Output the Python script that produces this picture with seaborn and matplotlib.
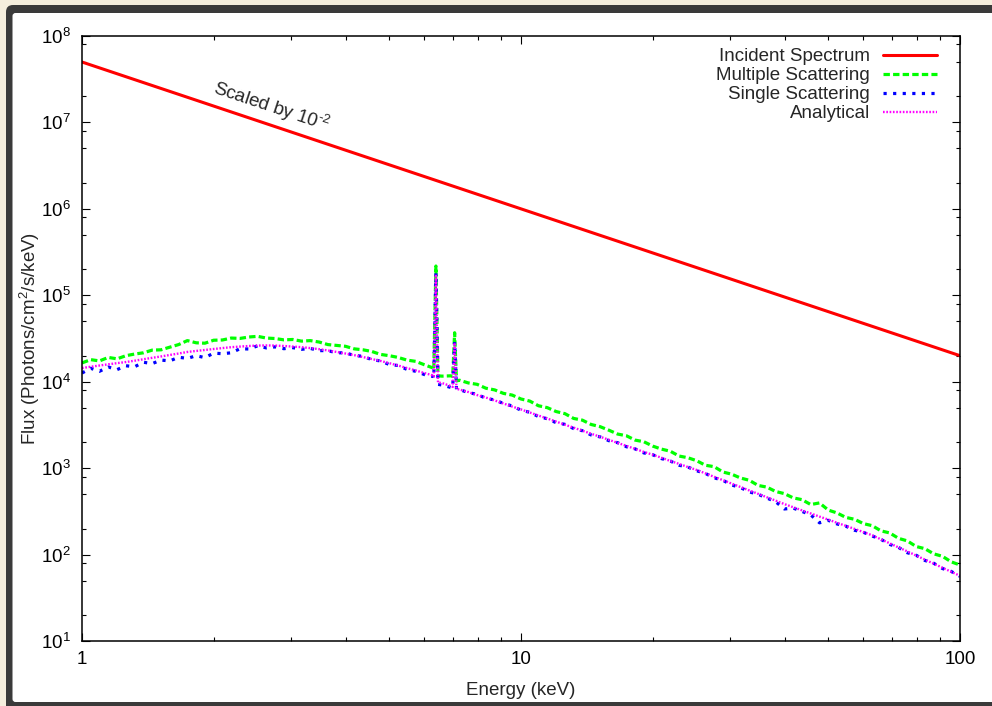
import matplotlib
matplotlib.use("Agg")
import matplotlib.pyplot as plt
from matplotlib.patches import FancyBboxPatch
from matplotlib.transforms import IdentityTransform
from matplotlib.ticker import (LogLocator, FixedLocator, FixedFormatter,
                               NullFormatter, LogFormatterSciNotation)
import seaborn as sns

# ---------------------------------------------------------------- data
energy_kev = [
    1.000, 1.047, 1.096, 1.148, 1.202, 1.259, 1.318, 1.380, 1.445, 1.514,
    1.585, 1.660, 1.738, 1.820, 1.905, 1.995, 2.089, 2.188, 2.291, 2.399,
    2.512, 2.630, 2.754, 2.884, 3.020, 3.162, 3.311, 3.467, 3.631, 3.802,
    3.981, 4.169, 4.365, 4.571, 4.786, 5.012, 5.248, 5.495, 5.754, 6.026,
    6.310, 6.33, 6.40, 6.47, 6.607, 6.918, 6.99, 7.06, 7.13,
    7.244, 7.586, 7.943, 8.318, 8.710, 9.120, 9.550,
    10.00, 10.47, 10.96, 11.48, 12.02, 12.59, 13.18, 13.80, 14.45, 15.14,
    15.85, 16.60, 17.38, 18.20, 19.05, 19.95, 20.89, 21.88, 22.91, 23.99,
    25.12, 26.30, 27.54, 28.84, 30.20, 31.62, 33.11, 34.67, 36.31, 38.02,
    39.81, 41.69, 43.65, 45.71, 47.86, 50.12, 52.48, 54.95, 57.54, 60.26,
    63.10, 66.07, 69.18, 72.44, 75.86, 79.43, 83.18, 87.10, 91.20, 95.50, 100.0,
]

incident_energy = [1.0, 100.0]
incident_flux = [5.0e7, 2.0e4]

multiple_flux = [
    1.65e4, 1.80e4, 1.74e4, 1.91e4, 1.84e4, 2.00e4, 2.09e4, 2.16e4, 2.32e4, 2.34e4,
    2.51e4, 2.69e4, 2.99e4, 2.82e4, 2.79e4, 3.02e4, 3.04e4, 3.20e4, 3.17e4, 3.29e4,
    3.35e4, 3.20e4, 3.16e4, 3.05e4, 3.08e4, 2.95e4, 2.99e4, 2.88e4, 2.69e4, 2.63e4,
    2.57e4, 2.40e4, 2.34e4, 2.24e4, 2.07e4, 2.00e4, 1.91e4, 1.78e4, 1.72e4, 1.57e4,
    1.44e4, 1.38e4, 2.18e5, 1.17e4, 1.16e4, 1.17e4, 1.15e4, 3.69e4, 1.02e4,
    1.04e4, 9.68e3, 9.33e3, 8.41e3, 8.04e3, 7.33e3, 7.00e3,
    6.31e3, 5.97e3, 5.27e3, 5.01e3, 4.52e3, 4.27e3, 3.76e3, 3.59e3, 3.20e3, 3.02e3,
    2.75e3, 2.48e3, 2.37e3, 2.11e3, 2.02e3, 1.80e3, 1.66e3, 1.57e3, 1.38e3, 1.32e3,
    1.22e3, 1.08e3, 1.04e3, 902, 851, 769, 724, 631, 603, 537,
    507, 453, 432, 379, 396, 327, 303, 269, 256, 228,
    216, 188, 178, 154, 144, 124, 117, 102, 95.5, 82.4, 75.7,
]

single_flux = [
    1.26e4, 1.43e4, 1.32e4, 1.48e4, 1.38e4, 1.53e4, 1.49e4, 1.68e4, 1.62e4, 1.78e4,
    1.74e4, 1.92e4, 1.86e4, 2.00e4, 1.90e4, 2.14e4, 2.11e4, 2.16e4, 2.41e4, 2.39e4,
    2.60e4, 2.46e4, 2.53e4, 2.41e4, 2.48e4, 2.37e4, 2.43e4, 2.29e4, 2.29e4, 2.16e4,
    2.16e4, 2.01e4, 1.97e4, 1.80e4, 1.74e4, 1.58e4, 1.54e4, 1.39e4, 1.32e4, 1.21e4,
    1.15e4, 1.10e4, 1.81e5, 9.33e3, 9.16e3, 8.59e3, 8.51e3, 2.90e4, 8.13e3,
    8.09e3, 7.50e3, 7.14e3, 6.43e3, 6.15e3, 5.60e3, 5.24e3,
    4.68e3, 4.43e3, 3.95e3, 3.73e3, 3.36e3, 3.21e3, 2.87e3, 2.71e3, 2.42e3, 2.30e3,
    2.08e3, 1.97e3, 1.77e3, 1.67e3, 1.50e3, 1.43e3, 1.29e3, 1.21e3, 1.08e3, 1.03e3,
    933, 869, 773, 723, 638, 596, 531, 499, 451, 409,
    337, 345, 316, 288, 233, 249, 226, 213, 191, 181,
    164, 150, 131, 121, 105, 98.4, 85.5, 79.4, 69.0, 63.8, 56.0,
]

analytical_flux = [
    1.44e4, 1.49e4, 1.54e4, 1.59e4, 1.64e4, 1.69e4, 1.75e4, 1.82e4, 1.89e4, 1.96e4,
    2.04e4, 2.12e4, 2.21e4, 2.27e4, 2.33e4, 2.39e4, 2.45e4, 2.51e4, 2.55e4, 2.59e4,
    2.62e4, 2.63e4, 2.62e4, 2.59e4, 2.55e4, 2.51e4, 2.45e4, 2.38e4, 2.30e4, 2.21e4,
    2.12e4, 2.03e4, 1.93e4, 1.83e4, 1.74e4, 1.64e4, 1.54e4, 1.44e4, 1.35e4, 1.26e4,
    1.18e4, 1.15e4, 1.74e5, 9.77e3, 9.66e3, 8.91e3, 8.71e3, 2.82e4, 8.22e3,
    8.13e3, 7.60e3, 7.01e3, 6.56e3, 6.07e3, 5.60e3, 5.16e3,
    4.78e3, 4.41e3, 4.06e3, 3.75e3, 3.46e3, 3.18e3, 2.94e3, 2.71e3, 2.50e3, 2.31e3,
    2.13e3, 1.96e3, 1.81e3, 1.67e3, 1.54e3, 1.43e3, 1.32e3, 1.21e3, 1.12e3, 1.03e3,
    953, 871, 794, 726, 662, 605, 552, 505, 460, 421,
    384, 353, 325, 299, 275, 254, 233, 215, 198, 182,
    167, 150, 135, 121, 109, 97.5, 87.5, 78.5, 70.5, 63.2, 56.8,
]

series_labels = ["Incident Spectrum", "Multiple Scattering",
                 "Single Scattering", "Analytical"]
x_tick_values = [1, 10, 100]
x_tick_labels = ["1", "10", "100"]
y_tick_values = [1e1, 1e2, 1e3, 1e4, 1e5, 1e6, 1e7, 1e8]

# ---------------------------------------------------------------- style
sns.set_style("ticks")
plt.rcParams["font.family"] = ["Liberation Sans", "DejaVu Sans"]
plt.rcParams["mathtext.fontset"] = "custom"
plt.rcParams["mathtext.rm"] = "Liberation Sans"
plt.rcParams["mathtext.it"] = "Liberation Sans:italic"
plt.rcParams["mathtext.bf"] = "Liberation Sans:bold"

FS = 13.5
W, H = 992, 706

fig = plt.figure(figsize=(W / 100, H / 100), dpi=100, facecolor="#f5eedd")

# dark rounded frame and white sheet behind the plot
fig.add_artist(FancyBboxPatch((6, -30), 1100, H - 5 + 30,
                              boxstyle="round,pad=0,rounding_size=7",
                              fc="#3a3a3a", ec="none",
                              transform=IdentityTransform(), zorder=-20))
fig.add_artist(FancyBboxPatch((12.5, 4), 1100, H - 13 - 4,
                              boxstyle="round,pad=0,rounding_size=3",
                              fc="white", ec="none",
                              transform=IdentityTransform(), zorder=-19))

ax = fig.add_axes([82 / W, 1 - 641 / H, (960 - 82) / W, (641 - 36) / H])
ax.set_facecolor("white")
ax.set_xscale("log")
ax.set_yscale("log")

sns.lineplot(x=incident_energy, y=incident_flux, ax=ax, color="#ff0000",
             lw=2.2, estimator=None, sort=False, label=series_labels[0])
sns.lineplot(x=energy_kev, y=multiple_flux, ax=ax, color="#00ff00",
             lw=2.3, linestyle=(0, (2.0, 1.0)), estimator=None, sort=False,
             label=series_labels[1])
sns.lineplot(x=energy_kev, y=single_flux, ax=ax, color="#0000ff",
             lw=2.3, linestyle=(0, (1.0, 2.0)), estimator=None, sort=False,
             label=series_labels[2])
sns.lineplot(x=energy_kev, y=analytical_flux, ax=ax, color="#ff00ff",
             lw=1.7, linestyle=(0, (0.7, 0.7)), estimator=None, sort=False,
             label=series_labels[3])

ax.set_xlim(1, 100)
ax.set_ylim(10, 1e8)

# ticks: inward, mirrored on all sides
ax.xaxis.set_major_locator(FixedLocator(x_tick_values))
ax.xaxis.set_major_formatter(FixedFormatter(x_tick_labels))
ax.xaxis.set_minor_locator(LogLocator(base=10, subs=range(2, 10), numticks=20))
ax.xaxis.set_minor_formatter(NullFormatter())
ax.yaxis.set_major_locator(FixedLocator(y_tick_values))
ax.yaxis.set_major_formatter(LogFormatterSciNotation())
ax.yaxis.set_minor_locator(LogLocator(base=10, subs=(2, 5, 8), numticks=20))
ax.yaxis.set_minor_formatter(NullFormatter())

ax.tick_params(which="both", direction="in", top=True, right=True,
               colors="black", labelsize=FS, width=0.8)
ax.tick_params(which="major", length=5.8)
ax.tick_params(which="minor", length=3.2)
ax.tick_params(axis="x", which="major", pad=7)
ax.tick_params(axis="y", which="major", pad=8)
for sp in ax.spines.values():
    sp.set_visible(True)
    sp.set_linewidth(1.1)
    sp.set_color("black")

ax.set_xlabel("Energy (keV)", fontsize=FS)
ax.set_ylabel(r"Flux (Photons/cm$^{\mathregular{2}}$/s/keV)", fontsize=FS)
ax.xaxis.set_label_coords(0.5, -0.068)
ax.yaxis.set_label_coords(-0.046, 0.5)

ax.text(2.70, 1.51e7, r"Scaled by 10$^{\text{-2}}$", fontsize=FS,
        rotation=-18.45, rotation_mode="anchor", ha="center", va="center")

ax.legend(loc="upper right", bbox_to_anchor=(0.974, 0.98), frameon=False,
          markerfirst=False, fontsize=FS, handlelength=2.9,
          handletextpad=0.68, labelspacing=0.1, borderpad=0,
          borderaxespad=0)

fig.savefig("out.png", dpi=100)
